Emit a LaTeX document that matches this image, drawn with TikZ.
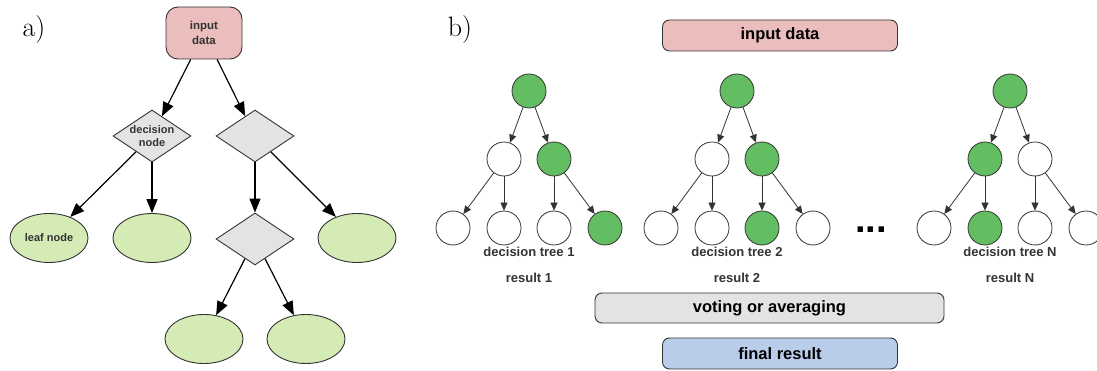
\documentclass[tikz,border=0pt]{standalone}
\usepackage{fontspec}
\usepackage{tikz}
\usetikzlibrary{arrows.meta,shapes.geometric}
\newfontfamily\labelfont{Liberation Sans}
\definecolor{inpink}{HTML}{EBBDBC}
\definecolor{nodegrey}{HTML}{E3E3E3}
\definecolor{leafgreen}{HTML}{D5EBB6}
\definecolor{treegreen}{HTML}{63BE63}
\definecolor{outblue}{HTML}{B9CDEB}
\definecolor{edgegrey}{HTML}{333333}
\tikzset{
  panellabel/.style={font=\fontsize{28}{32}\selectfont, inner sep=0pt},
  inbox/.style={draw=edgegrey, line width=0.9pt, fill=inpink, rounded corners=12pt,
    minimum width=76pt, minimum height=52pt, inner sep=0pt, align=center,
    text=edgegrey, font=\labelfont\bfseries\fontsize{11.5}{15}\selectfont},
  decnode/.style={diamond, draw=edgegrey, line width=0.9pt, fill=nodegrey,
    minimum width=78pt, minimum height=52pt, inner sep=0pt, aspect=1.5, align=center,
    text=edgegrey, font=\labelfont\bfseries\fontsize{11}{12.5}\selectfont},
  leafnode/.style={ellipse, draw=edgegrey, line width=0.9pt, fill=leafgreen,
    minimum width=78pt, minimum height=49pt, inner sep=0pt,
    text=edgegrey, font=\labelfont\bfseries\fontsize{11}{12}\selectfont},
  bigarrow/.style={-{Triangle[length=14pt, width=11pt]}, line width=1.2pt},
  widebox/.style={draw=edgegrey, line width=0.9pt, rounded corners=7pt,
    minimum width=235pt, minimum height=31pt, inner sep=0pt,
    font=\labelfont\bfseries\fontsize{16.5}{20}\selectfont},
  treeon/.style={circle, draw=edgegrey, line width=0.8pt, fill=treegreen,
    minimum size=34pt, inner sep=0pt},
  treeoff/.style={circle, draw=edgegrey, line width=0.8pt, fill=white,
    minimum size=34pt, inner sep=0pt},
  treearrow/.style={-{Triangle[length=8pt, width=7pt]}, line width=0.8pt, edgegrey},
  treelabel/.style={inner sep=0pt, text=edgegrey,
    font=\labelfont\bfseries\fontsize{13}{15}\selectfont},
}

\begin{document}
\begin{tikzpicture}[x=1pt, y=-1pt]
  \useasboundingbox (0,0) rectangle (1097,371);
  % ---------------- a) one decision tree ----------------
  \node[panellabel] (pa) at (34,30) {a)};
  \node[inbox] (inp) at (204,33) {input\\data};
  \node[decnode] (dl) at (152,136) {decision\\node};
  \node[decnode] (dr) at (255,136) {};
  \node[decnode] (dd) at (255,239) {};
  \node[leafnode] (lf1) at (49,238) {leaf node};
  \node[leafnode] (lf2) at (152,238) {};
  \node[leafnode] (lf3) at (357,238) {};
  \node[leafnode] (lf4) at (204,339) {};
  \node[leafnode] (lf5) at (306,339) {};
  \foreach \a/\b in {inp/dl, inp/dr, dl/lf1, dl/lf2, dr/dd, dr/lf3, dd/lf4, dd/lf5}
    { \draw[bigarrow] (\a) -- (\b); }
  % ---------------- b) random forest ----------------
  \node[panellabel] (pb) at (460,30) {b)};
  \node[widebox, fill=inpink] (binp) at (780,35.5) {input data};
  \node[widebox, fill=nodegrey, minimum width=349pt, minimum height=30pt] (vote)
    at (769.5,308) {voting or averaging};
  \node[widebox, fill=outblue] (final) at (780,353.5) {final result};
  % trees: name / centre / left, right / four leaves
  \foreach \t/\cx/\sl/\sr/\sa/\sb/\sc/\sd in {
      1/529/treeoff/treeon/treeoff/treeoff/treeoff/treeon,
      2/737/treeoff/treeon/treeoff/treeoff/treeon/treeoff,
      N/1010/treeon/treeoff/treeoff/treeon/treeoff/treeoff} {
    \node[treeon] (t\t-r) at (\cx,91) {};
    \node[\sl] (t\t-l) at (\cx-25,159) {};
    \node[\sr] (t\t-m) at (\cx+25,159) {};
    \node[\sa] (t\t-a) at (\cx-76,228) {};
    \node[\sb] (t\t-b) at (\cx-25,228) {};
    \node[\sc] (t\t-c) at (\cx+25,228) {};
    \node[\sd] (t\t-d) at (\cx+76,228) {};
    \draw[treearrow] (t\t-r) -- (t\t-l);
    \draw[treearrow] (t\t-r) -- (t\t-m);
    \draw[treearrow] (t\t-l) -- (t\t-a);
    \draw[treearrow] (t\t-l) -- (t\t-b);
    \draw[treearrow] (t\t-m) -- (t\t-c);
    \draw[treearrow] (t\t-m) -- (t\t-d);
    \node[treelabel] (t\t-name) at (\cx,252) {decision tree \t};
    \node[treelabel] (t\t-res) at (\cx,278) {result \t};
  }
  \node[inner sep=0pt, font=\labelfont\bfseries\fontsize{38}{40}\selectfont] (more)
    at (871,230) {...};
\end{tikzpicture}
\end{document}
